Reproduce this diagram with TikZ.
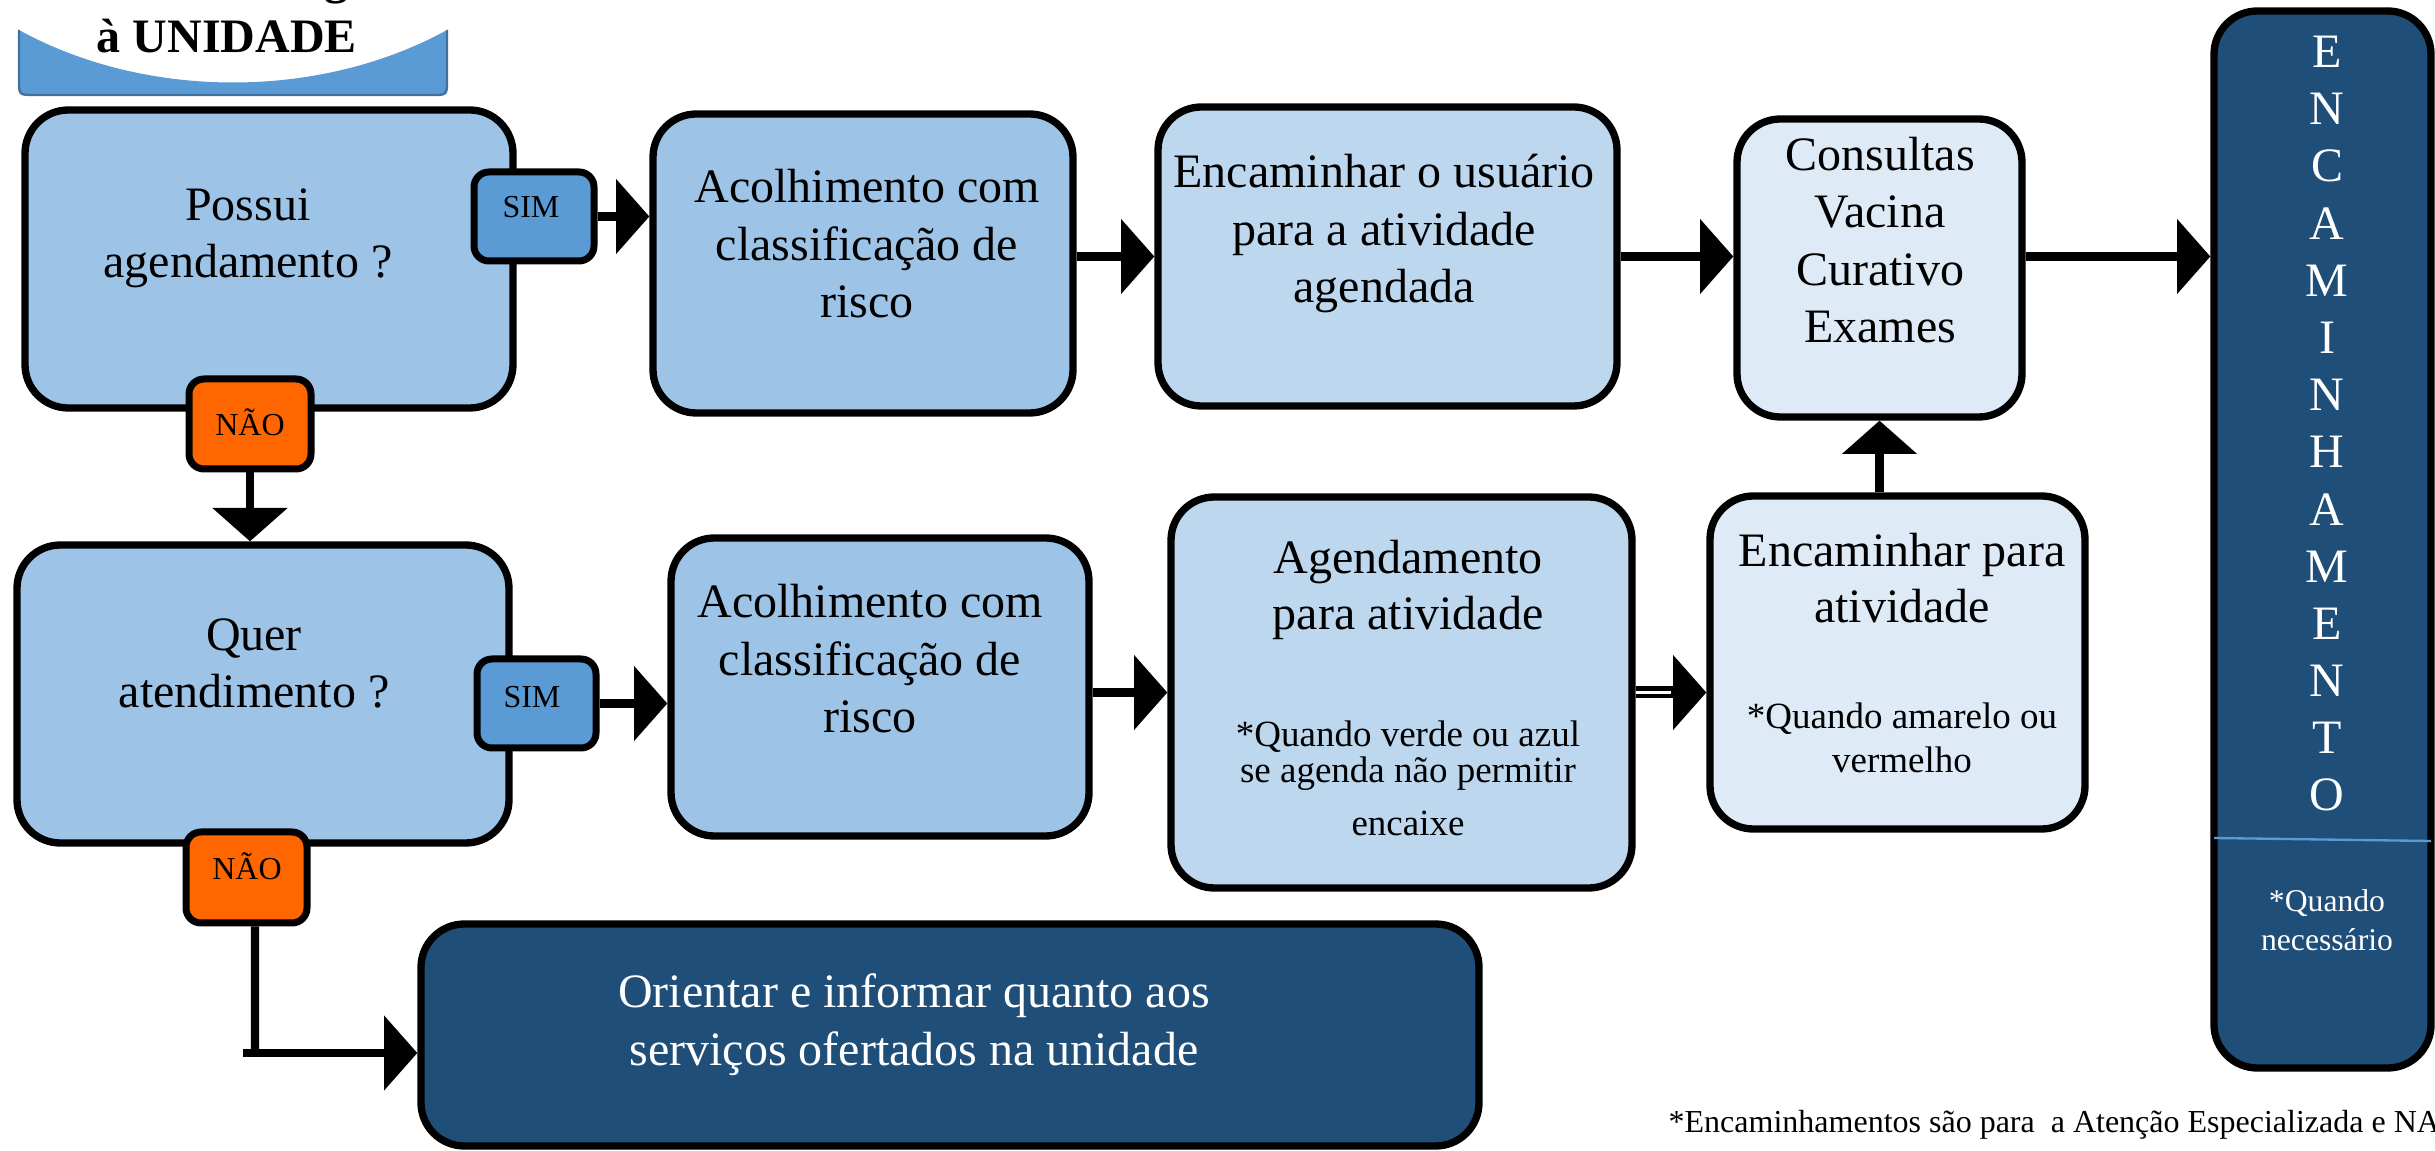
\documentclass[tikz,border=0pt]{standalone}
\usepackage{fontspec}
\setmainfont{Liberation Serif}
\usetikzlibrary{arrows.meta,fit}
\definecolor{bxA}{HTML}{9DC3E6}
\definecolor{bxC}{HTML}{BDD7EE}
\definecolor{bxD}{HTML}{DEEBF7}
\definecolor{bxdark}{HTML}{1F4E79}
\definecolor{simc}{HTML}{5B9BD5}
\definecolor{naoc}{HTML}{FF6600}
\definecolor{ttlfill}{HTML}{5B9BD5}
\definecolor{ttlborder}{HTML}{41719C}
\definecolor{divc}{HTML}{5B9BD5}
\begin{document}
\begin{tikzpicture}[x=0.3pt,y=-0.3pt,
  box/.style={draw=black, line width=2.2pt, rounded corners=13pt, inner sep=0pt},
  tagbox/.style={draw=black, line width=2.1pt, rounded corners=4.5pt, inner sep=0pt},
  txt/.style={font=\fontsize{14.4}{17.25}\selectfont, align=center, anchor=base, inner sep=0pt},
  note/.style={font=\fontsize{11.1}{11.1}\selectfont, align=center, anchor=base, inner sep=0pt},
  tagtxt/.style={font=\fontsize{9.6}{11}\selectfont, anchor=base, inner sep=0pt},
  conn/.style={line width=2.5pt},
  arr/.style={line width=2.5pt, -{Triangle[length=10pt,width=22pt]}}
]
\useasboundingbox (0,0) rectangle (2435,1151);

% title ribbon
\fill[ttlfill] (19,30) -- (19,80) .. controls (19,95) .. (34,95) -- (432,95) .. controls (447,95) .. (447,80) -- (447,30) .. controls (320,100) and (146,100) .. (19,30) -- cycle;
\draw[ttlborder, line width=0.7pt] (19,30) -- (19,80) .. controls (19,95) .. (34,95) -- (432,95) .. controls (447,95) .. (447,80) -- (447,30);
\node[txt, font=\bfseries\fontsize{14.4}{17.25}\selectfont] (title0) at (227,-6) {Usuário chega};
\node[txt, font=\bfseries\fontsize{14.4}{17.25}\selectfont] (title) at (227,53) {à UNIDADE};

% main boxes
\node[box, fill=bxA, fit={(25,110) (513,408)}] (A) {};
\node[box, fill=bxA, fit={(653,114) (1073,413)}] (B) {};
\node[box, fill=bxC, fit={(1158,107) (1617,406)}] (C) {};
\node[box, fill=bxD, fit={(1737,119) (2022,417)}] (D) {};
\node[box, fill=bxdark, fit={(2214,11) (2431,1068)}] (E) {};
\node[box, fill=bxA, fit={(17,545) (509,843)}] (F) {};
\node[box, fill=bxA, fit={(671,538) (1089,836)}] (G) {};
\node[box, fill=bxC, fit={(1171,497) (1632,888)}] (H) {};
\node[box, fill=bxD, fit={(1710,496) (2085,829)}] (I) {};
\node[box, fill=bxdark, fit={(421,924) (1479,1146)}] (J) {};

% divider in E
\draw[divc, line width=0.7pt] (2214,838) -- (2431,841);

% tags
\node[tagbox, fill=simc, fit={(474,172) (594,261)}] (sim1) {};
\node[tagbox, fill=simc, fit={(477,659) (596,748)}] (sim2) {};
\node[tagbox, fill=naoc, fit={(189,379) (311,469)}] (nao1) {};
\node[tagbox, fill=naoc, fit={(186,832) (307,923)}] (nao2) {};

% texts (anchor = baseline of the last line)
\node[txt] (tA) at (248,278) {Possui\\agendamento ?};
\node[txt] (tB) at (867,318) {Acolhimento com\\classificação de\\risco};
\node[txt] (tC) at (1384,303) {Encaminhar o usuário\\para a atividade\\agendada};
\node[txt] (tD) at (1880,343) {Consultas\\Vacina\\Curativo\\Exames};
\node[txt, text=white, font=\fontsize{14.4}{17.16}\selectfont] (tE) at (2327,811) {E\\N\\C\\A\\M\\I\\N\\H\\A\\M\\E\\N\\T\\O};
\node[note, text=white, font=\fontsize{9.5}{11.7}\selectfont] (tEn) at (2327,950) {*Quando\\necessário};
\node[txt] (tF) at (254,708) {Quer\\atendimento ?};
\node[txt] (tG) at (870,733) {Acolhimento com\\classificação de\\risco};
\node[txt, font=\fontsize{14.4}{16.8}\selectfont] (tH) at (1408,630) {Agendamento\\para atividade};
\node[note] (tHn) at (1408,836) {*Quando verde ou azul\\se agenda não permitir\\[4.8pt]encaixe};
\node[txt, font=\fontsize{14.4}{16.8}\selectfont] (tI) at (1902,623) {Encaminhar para\\atividade};
\node[note, font=\fontsize{11.1}{13.2}\selectfont] (tIn) at (1902,773) {*Quando amarelo ou\\vermelho};
\node[txt, text=white] (tJ) at (914,1065) {Orientar e informar quanto aos\\serviços ofertados na unidade};
\node[tagtxt] (lsim1) at (531,218) {SIM};
\node[tagtxt] (lsim2) at (532,708) {SIM};
\node[tagtxt] (lnao1) at (250,436) {NÃO};
\node[tagtxt] (lnao2) at (247,880) {NÃO};
\node[font=\fontsize{9.6}{11}\selectfont, anchor=base west, inner sep=0pt] (foot) at (1668,1132) {*Encaminhamentos são para~ a Atenção Especializada e NA};

% connectors
\draw[arr] (sim1.east) -- (sim1.east -| B.west);
\draw[arr] (B.east |- C.west) -- (C.west);
\draw[arr] (C.east) -- (C.east -| D.west);
\draw[arr] (C.east -| D.east) -- (C.east -| E.west);
\draw[arr] (nao1.south) -- (nao1.south |- F.north);
\draw[arr] (sim2.east) -- (sim2.east -| G.west);
\draw[arr] (G.east |- H.west) -- (H.west);
\draw[line width=3.6pt, -{Triangle[length=10pt,width=22pt]}] (H.east) -- (H.east -| I.west);
\draw[white, line width=0.9pt] (H.east) -- ([xshift=-10.5pt]H.east -| I.west);
\draw[arr] (D.south |- I.north) -- (D.south);
\coordinate (elbow) at (255,1053);
\draw[conn] ([xshift=2.55pt]nao2.south) -- (elbow);
\draw[arr] ([xshift=-3.6pt]elbow) -- (elbow -| J.west);
\end{tikzpicture}
\end{document}
